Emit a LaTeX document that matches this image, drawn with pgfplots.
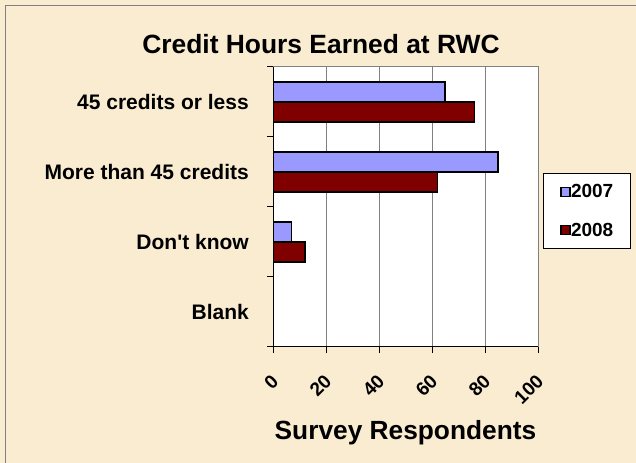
\documentclass[border=0pt]{standalone}
\usepackage{fontspec}
\setmainfont{Liberation Sans}
\usepackage{pgfplots}
\pgfplotsset{compat=1.18}
\definecolor{bgParch}{RGB}{249,236,209}
\definecolor{col2007}{RGB}{153,153,255}
\definecolor{col2008}{RGB}{128,0,0}
\definecolor{gridGray}{RGB}{128,128,128}

\begin{document}
\begin{tikzpicture}[x=1bp,y=1bp]
\useasboundingbox (0,0) rectangle (636,463);
\fill[bgParch] (0,0) rectangle (636,463);
\draw[gridGray, line width=1bp] (5.5,0) -- (5.5,457.5) -- (636,457.5);
\begin{axis}[
  at={(273bp,116bp)}, anchor=south west,
  scale only axis, width=265bp, height=280bp,
  xbar, bar width=20bp,
  xmin=0, xmax=100, ymin=-0.5, ymax=3.5,
  axis lines=left,
  axis line style={-, black, line width=1bp},
  axis background/.style={fill=white, draw=gridGray, line width=1bp},
  tick align=outside, major tick length=6bp,
  tick style={black, line width=1bp},
  xtick={0,20,40,60,80,100},
  xmajorgrids, grid style={gridGray, line width=0.9bp},
  ytick={-0.5,0.5,1.5,2.5,3.5}, yticklabels={,,,,},
  extra y ticks={0,1,2,3},
  extra y tick labels={Blank, Don\textquotesingle t know, More than 45 credits, 45 credits or less},
  extra y tick style={major tick length=0pt},
  yticklabel style={font=\bfseries\fontsize{21bp}{21bp}\selectfont,
    anchor=east, inner sep=0pt, xshift=-24bp},
  /pgf/number format/assume math mode=true,
  xticklabel style={font=\bfseries\fontsize{19bp}{19bp}\selectfont,
    inner sep=0pt, xshift=2bp, yshift=-25bp, rotate=45, anchor=east},
  xlabel={Survey Respondents},
  xlabel style={font=\bfseries\fontsize{26.3bp}{26.3bp}\selectfont,
    at={(axis description cs:0.5,0)}, anchor=base, yshift=-93bp},
  legend style={at={(axis description cs:1.019,0.621)}, anchor=north west,
    draw=black, line width=0.8bp, fill=white,
    font=\bfseries\fontsize{19bp}{19bp}\selectfont,
    nodes={inner sep=0pt}, inner xsep=17bp, inner ysep=11bp, row sep=23.5bp},
  legend cell align=left,
  /tikz/every even column/.append style={column sep=3bp},
  legend image code/.code={\draw[#1, line width=1.6bp] (0bp,-4.5bp) rectangle (9bp,4.5bp);},
]
\addplot[draw=black, fill=col2007, line width=1.6bp, bar shift=10bp]
  coordinates {(65,3) (85,2) (7,1) (0,0)};
\addlegendentry{2007}
\addplot[draw=black, fill=col2008, line width=1.6bp, bar shift=-10bp]
  coordinates {(76,3) (62,2) (12,1) (0,0)};
\addlegendentry{2008}
\end{axis}
\node[anchor=base, font=\bfseries\fontsize{26.4bp}{26.4bp}\selectfont]
  at (321,409) {Credit Hours Earned at RWC};
\end{tikzpicture}
\end{document}
